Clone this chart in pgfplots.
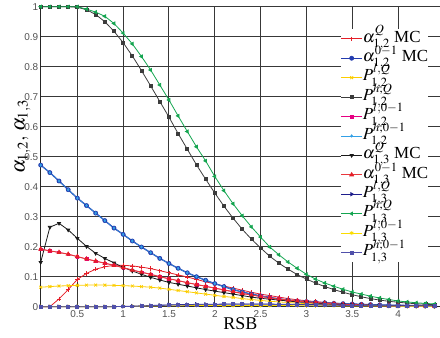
\documentclass[border=0pt]{standalone}
\usepackage{mathptmx}
\usepackage{fontspec}
\setmainfont{Liberation Serif}
\newfontfamily\ticksf{Liberation Sans}
\usepackage{pgfplots}
\usepackage{pgfplotstable}
\pgfplotsset{compat=1.18}
\definecolor{cRed}{RGB}{228,30,40}
\definecolor{cBlue}{RGB}{35,60,175}
\definecolor{cYel}{RGB}{252,205,0}
\definecolor{cGray}{RGB}{60,60,60}
\definecolor{cMag}{RGB}{230,0,130}
\definecolor{cCyan}{RGB}{50,160,230}
\definecolor{cBlack}{RGB}{25,25,25}
\definecolor{cSalmon}{RGB}{232,55,60}
\definecolor{cNavy}{RGB}{30,30,140}
\definecolor{cGreen}{RGB}{20,165,80}
\definecolor{cYel2}{RGB}{250,220,0}
\definecolor{cPurp}{RGB}{80,80,170}
\pgfplotstableread{
x hQ13 hQ12 a012 aQ12 a013 aQ13 lQ12 lQ13 l0113 h0113
0.1 1 1 0.472 0 0.192 0.148 0.065 0 0 0
0.2 1 1 0.447 0 0.186 0.265 0.067 0 0 0
0.3 1 1 0.419 0.026 0.181 0.278 0.069 0 0 0
0.4 1 1 0.390 0.057 0.175 0.256 0.070 0 0 0
0.5 1 0.998 0.362 0.091 0.167 0.228 0.071 0 0 0
0.6 0.992 0.990 0.337 0.111 0.159 0.201 0.072 0 0 0
0.7 0.982 0.974 0.312 0.125 0.152 0.178 0.072 0 0 0
0.8 0.968 0.950 0.287 0.133 0.145 0.161 0.072 0 0 0
0.9 0.944 0.918 0.262 0.138 0.138 0.146 0.071 0 0 0
1.0 0.912 0.880 0.241 0.138 0.130 0.131 0.070 0.001 0.001 0.001
1.1 0.876 0.836 0.219 0.136 0.122 0.119 0.069 0.002 0.001 0.001
1.2 0.834 0.787 0.199 0.132 0.115 0.108 0.067 0.003 0.002 0.002
1.3 0.789 0.736 0.180 0.127 0.108 0.098 0.065 0.004 0.002 0.003
1.4 0.739 0.684 0.161 0.120 0.100 0.089 0.062 0.005 0.003 0.004
1.5 0.689 0.632 0.144 0.113 0.093 0.081 0.058 0.006 0.003 0.005
1.6 0.636 0.577 0.128 0.106 0.087 0.075 0.054 0.007 0.003 0.006
1.7 0.584 0.525 0.113 0.099 0.080 0.069 0.050 0.007 0.004 0.006
1.8 0.533 0.473 0.100 0.091 0.074 0.063 0.046 0.008 0.004 0.007
1.9 0.486 0.425 0.088 0.083 0.068 0.057 0.042 0.008 0.004 0.007
2.0 0.434 0.379 0.077 0.076 0.062 0.052 0.038 0.008 0.004 0.007
2.1 0.387 0.335 0.067 0.069 0.056 0.047 0.034 0.009 0.004 0.008
2.2 0.343 0.295 0.057 0.062 0.050 0.042 0.031 0.009 0.004 0.008
2.3 0.303 0.258 0.049 0.055 0.044 0.037 0.027 0.009 0.004 0.008
2.4 0.266 0.225 0.042 0.048 0.039 0.032 0.024 0.009 0.004 0.008
2.5 0.232 0.196 0.036 0.042 0.034 0.028 0.021 0.009 0.004 0.008
2.6 0.199 0.168 0.031 0.037 0.030 0.025 0.018 0.009 0.004 0.008
2.7 0.173 0.145 0.026 0.032 0.026 0.022 0.016 0.008 0.004 0.007
2.8 0.149 0.125 0.022 0.027 0.022 0.019 0.014 0.008 0.004 0.007
2.9 0.128 0.107 0.019 0.023 0.019 0.016 0.012 0.008 0.003 0.007
3.0 0.108 0.092 0.017 0.020 0.016 0.014 0.010 0.007 0.003 0.006
3.1 0.092 0.079 0.015 0.017 0.014 0.012 0.009 0.007 0.003 0.006
3.2 0.079 0.067 0.013 0.014 0.012 0.010 0.008 0.006 0.003 0.005
3.3 0.068 0.057 0.011 0.012 0.010 0.009 0.007 0.006 0.003 0.005
3.4 0.058 0.048 0.010 0.010 0.008 0.008 0.006 0.005 0.002 0.004
3.5 0.049 0.040 0.009 0.008 0.007 0.007 0.005 0.005 0.002 0.004
3.6 0.042 0.033 0.008 0.007 0.006 0.006 0.004 0.004 0.002 0.004
3.7 0.035 0.027 0.007 0.006 0.005 0.005 0.004 0.004 0.002 0.003
3.8 0.029 0.022 0.006 0.005 0.004 0.004 0.003 0.004 0.002 0.003
3.9 0.024 0.018 0.005 0.004 0.003 0.003 0.003 0.003 0.002 0.003
4.0 0.019 0.015 0.005 0.003 0.003 0.003 0.002 0.003 0.001 0.002
4.1 0.016 0.012 0.004 0.003 0.002 0.002 0.002 0.003 0.001 0.002
4.2 0.013 0.010 0.004 0.002 0.002 0.002 0.002 0.002 0.001 0.002
4.3 0.011 0.008 0.003 0.002 0.002 0.002 0.002 0.002 0.001 0.002
4.4 0.009 0.007 0.003 0.002 0.001 0.001 0.002 0.002 0.001 0.002
}\datatable
\begin{document}
\begin{tikzpicture}
\begin{axis}[
  scale only axis, width=399.3bp, height=300bp,
  xmin=0.1, xmax=4.458, ymin=0, ymax=1,
  axis lines*=left,
  axis line style={draw=black!85, line width=1.1pt},
  clip=false,
  xtick={0.5,1,1.5,2,2.5,3,3.5,4},
  ytick={0,0.1,0.2,0.3,0.4,0.5,0.6,0.7,0.8,0.9,1},
  major tick length=0pt,
  grid=major,
  major grid style={draw=black!78, line width=1pt},
  /pgf/number format/assume math mode=true,
  tick label style={font=\ticksf\fontsize{10}{10}\selectfont, text=black!68},
  xticklabel style={yshift=-0.5pt},
  yticklabel style={xshift=1pt},
  xlabel={RSB},
  xlabel style={at={(axis description cs:0.5,0)}, anchor=base, yshift=-22.5bp, inner sep=0pt, font=\fontsize{18}{18}\selectfont},
  every axis plot/.append style={line width=0.8pt, mark size=1.8pt},
  legend style={
    at={(axis cs:3.37,0.926)}, anchor=north west,
    draw=none, fill=white,
    inner xsep=0pt, inner ysep=0pt,
    row sep=0pt,
    font=\fontsize{17}{17}\selectfont,
    nodes={inner sep=0pt, text height=13pt, text depth=6.5pt},
    /tikz/every even column/.append style={column sep=1.5pt},
  },
  legend cell align=left,
  legend image code/.code={\draw[mark repeat=2,mark phase=2,#1] plot coordinates {(0bp,0bp)(10.5bp,0bp)(21bp,0bp)};},
]
\addplot[color=cRed, mark=+, mark size=2.2pt] table[x=x,y=aQ12] {\datatable};
\addlegendentry{$\alpha^{Q}_{1,2}$ MC}
\addplot[color=cBlue, line width=1.3pt, mark=*, mark size=2.1pt, mark options={fill=cBlue, line width=0.6pt}] table[x=x,y=a012] {\datatable};
\addlegendentry{$\alpha^{0-1}_{1,2}$ MC}
\addplot[color=cYel, mark=x, mark size=2pt] table[x=x,y=lQ12] {\datatable};
\addlegendentry{$P^{l,Q}_{1,2}$}
\addplot[color=cGray, mark=square*, mark size=1.5pt] table[x=x,y=hQ12] {\datatable};
\addlegendentry{$P^{h;Q}_{1,2}$}
\addplot[color=cMag, line width=0.5pt, mark=square*, mark size=1.3pt] table[x=x,y=a013] {\datatable};
\addlegendentry{$P^{l,0-1}_{1,2}$}
\addplot[color=cCyan, line width=0.4pt, mark=diamond*, mark size=1.4pt] table[x=x,y=a012] {\datatable};
\addlegendentry{$P^{h;0-1}_{1,2}$}
\addplot[color=cBlack, mark=triangle*, mark options={rotate=180}] table[x=x,y=aQ13] {\datatable};
\addlegendentry{$\alpha^{Q}_{1,3}$ MC}
\addplot[color=cSalmon, line width=1pt, mark=triangle*, mark size=2pt, mark options={fill=cRed, draw=cRed}] table[x=x,y=a013] {\datatable};
\addlegendentry{$\alpha^{0-1}_{1,3}$ MC}
\addplot[color=cNavy, mark=triangle*, mark options={rotate=-90}] table[x=x,y=lQ13] {\datatable};
\addlegendentry{$P^{l,Q}_{1,3}$}
\addplot[color=cGreen, mark=triangle*, mark options={rotate=90}] table[x=x,y=hQ13] {\datatable};
\addlegendentry{$P^{h;Q}_{1,3}$}
\addplot[color=cYel2, mark=asterisk, mark size=2pt] table[x=x,y=l0113] {\datatable};
\addlegendentry{$P^{l,0-1}_{1,3}$}
\addplot[color=cPurp, mark=square*, mark size=1.5pt] table[x=x,y=h0113] {\datatable};
\addlegendentry{$P^{h;0-1}_{1,3}$}
\node[rotate=90, anchor=south, inner sep=0pt, font=\fontsize{20}{20}\selectfont] at ([xshift=-10bp]rel axis cs:0,0.566) {$\alpha_{1,2},\,\alpha_{1,3}$};
\coordinate (ll) at (rel axis cs:0,0);
\coordinate (ur) at (rel axis cs:1,1);
\end{axis}
\pgfresetboundingbox
\useasboundingbox ([xshift=-40.7bp,yshift=-31.3bp]ll) rectangle ([yshift=6.7bp]ur);
\end{tikzpicture}
\end{document}
